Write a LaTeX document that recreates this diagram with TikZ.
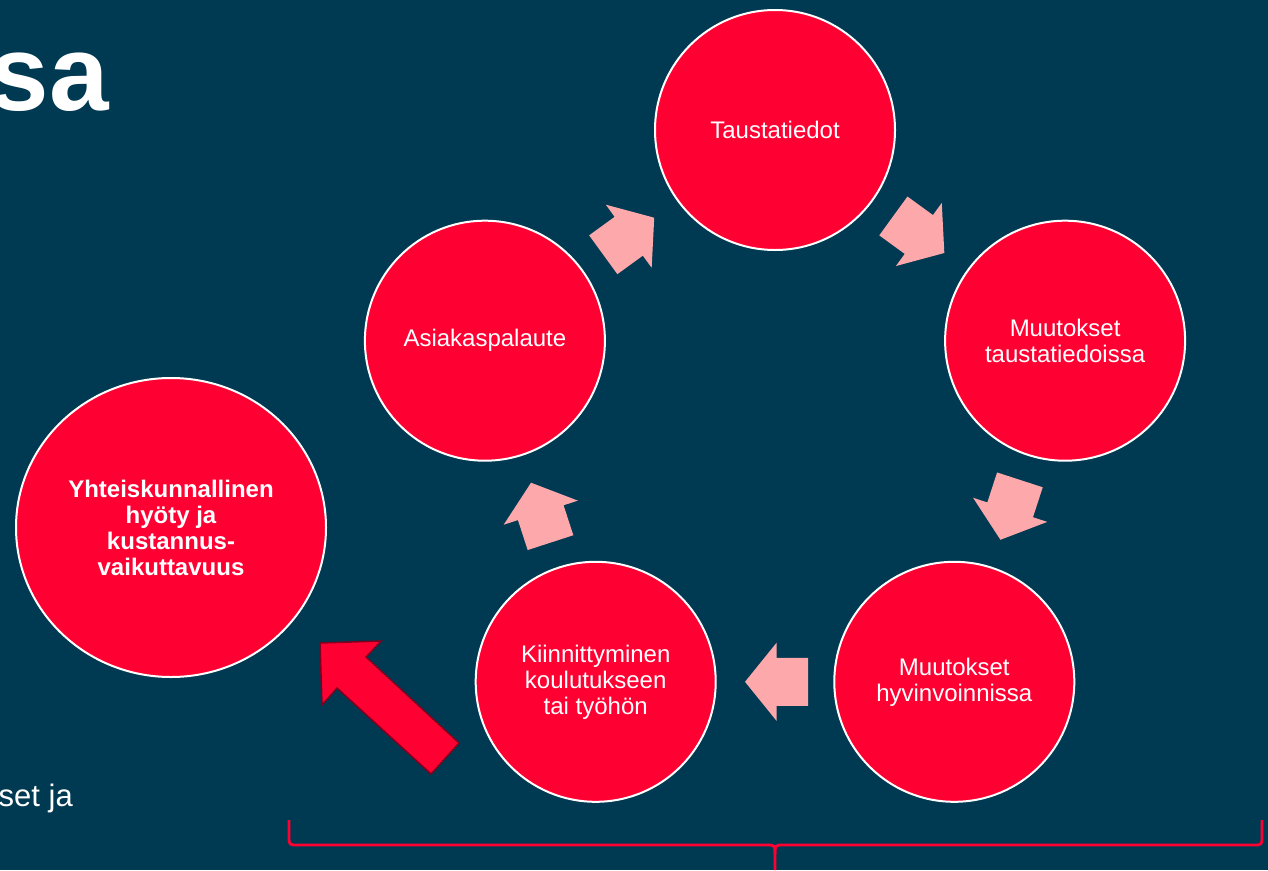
\documentclass[tikz,border=0pt]{standalone}
\usepackage{fontspec}
\setmainfont{Liberation Sans}
\usetikzlibrary{calc,shapes.geometric}
\definecolor{bgc}{RGB}{0,57,82}
\definecolor{redc}{RGB}{255,0,51}
\definecolor{pinkc}{RGB}{253,168,170}
\definecolor{darkredc}{RGB}{130,0,30}
\tikzset{
  cyc/.style={circle, minimum size=240pt, inner sep=0pt, draw=white, line width=2pt, fill=redc,
    text=white, align=center, font=\fontsize{24}{26}\selectfont},
  bigcirc/.style={ellipse, minimum width=310pt, minimum height=299pt, inner sep=0pt, draw=white, line width=2pt,
    fill=redc, text=white, align=center, font=\bfseries\fontsize{24}{26}\selectfont},
  blockarr/.style={fill=pinkc},
  bracec/.style={draw=redc, line width=2.8pt, line join=round},
}
\newcommand\cycarrow[3]{%
  \begin{scope}[shift={($(#1)!0.5!(#2)$)}, rotate=#3]
    \path[blockarr] (-33,-24) -- (-1.5,-24) -- (-1.5,-39) -- (30,0) -- (-1.5,39) -- (-1.5,24) -- (-33,24) -- cycle;
  \end{scope}}
\begin{document}
\begin{tikzpicture}[x=1pt, y=-1pt]
\useasboundingbox (0,0) rectangle (1268,870);
\fill[bgc] (0,0) rectangle (1268,870);

\node[anchor=base east, inner sep=0pt, text=white, font=\bfseries\fontsize{107}{107}\selectfont] (title) at (109,110) {sa};
\node[anchor=base east, inner sep=0pt, text=white, font=\fontsize{31}{33}\selectfont] (setja) at (73,806) {set ja};

\node[cyc] (c1) at (775,130) {Taustatiedot};
\node[cyc] (c2) at (1065.1,340.7) {Muutokset\\taustatiedoissa};
\node[cyc] (c3) at (954.3,681.8) {Muutokset\\hyvinvoinnissa};
\node[cyc] (c4) at (595.7,681.8) {Kiinnittyminen\\koulutukseen\\tai työhön};
\node[cyc] (c5) at (484.9,340.7) {Asiakaspalaute};

\node[bigcirc] (big) at (171,527.5) {Yhteiskunnallinen\\hyöty ja\\kustannus-\\vaikuttavuus};

\cycarrow{c5}{c1}{36}
\cycarrow{c1}{c2}{-36}
\cycarrow{c2}{c3}{-108}
\cycarrow{c3}{c4}{180}
\cycarrow{c4}{c5}{108}

% big red arrow from c4 towards the big circle
\draw[fill=redc, draw=darkredc, line width=1.5pt, line join=miter]
  (320,643) -- (381,641) -- (366,657) -- (459,743) -- (431,774) -- (337,688) -- (322,705) -- cycle;

% brace
\coordinate (bl) at (289,820);
\coordinate (br) at (1262,820);
\coordinate (bt) at (775,870);
\draw[bracec] (bl) -- (289,836) .. controls (289,845) .. (298,845) -- (766,845) .. controls (775,845) .. (775,854) -- (bt);
\draw[bracec] (br) -- (1262,836) .. controls (1262,845) .. (1253,845) -- (784,845) .. controls (775,845) .. (775,854);
\end{tikzpicture}
\end{document}
